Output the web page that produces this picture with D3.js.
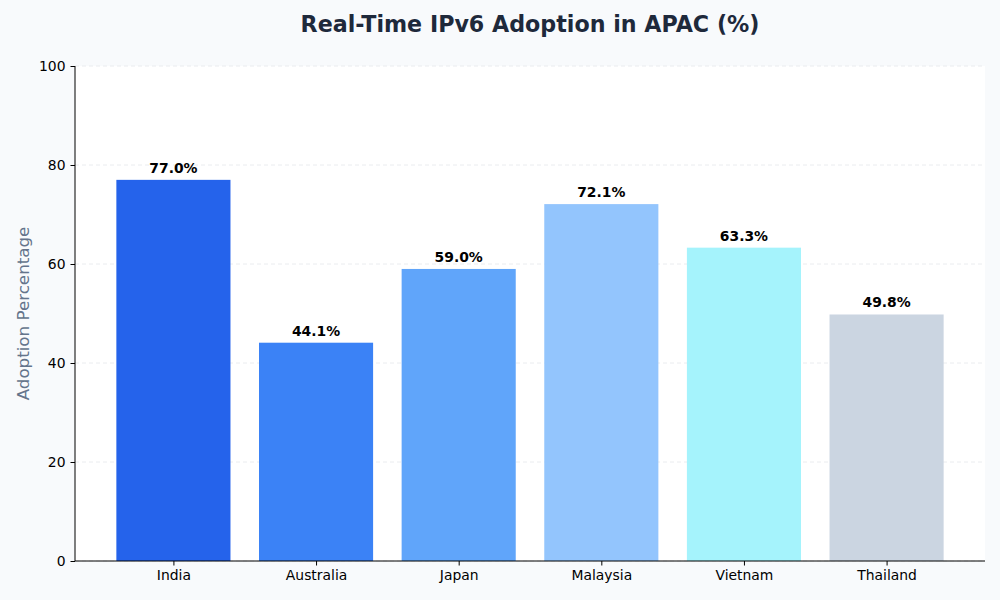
<!DOCTYPE html>
<html>
<head>
<meta charset="utf-8">
<script src="https://cdn.jsdelivr.net/npm/d3@7"></script>
<style>
  body { margin: 0; background: #f8fafc; }
  svg { font-family: 'DejaVu Sans', sans-serif; display: block; }
</style>
</head>
<body>
<svg id="chart" width="1000" height="600"></svg>
<script>
var countries = ['India', 'Australia', 'Japan', 'Malaysia', 'Vietnam', 'Thailand']
var adoption = [77.0, 44.1, 59.0, 72.1, 63.3, 49.8]
var colors = ['#2563eb', '#3b82f6', '#60a5fa', '#93c5fd', '#a5f3fc', '#cbd5e1']
var yTicks = [0, 20, 40, 60, 80, 100]

var svg = d3.select('#chart')
var m = {left: 75, right: 15, top: 66, bottom: 39}
var W = 1000, H = 600

svg.append('rect').attr('width', W).attr('height', H).attr('fill', '#f8fafc')
svg.append('rect')
  .attr('x', m.left).attr('y', m.top)
  .attr('width', W - m.left - m.right).attr('height', H - m.top - m.bottom)
  .attr('fill', '#fff')

var x = d3.scaleLinear().domain([-0.69, 5.69]).range([m.left, W - m.right])
var y = d3.scaleLinear().domain([0, 100]).range([H - m.bottom, m.top])
var step = x(1) - x(0)

// grid
svg.append('g').selectAll('line').data(yTicks).join('line')
  .attr('x1', m.left).attr('x2', W - m.right)
  .attr('y1', d => y(d)).attr('y2', d => y(d))
  .attr('stroke', '#e5e7eb').attr('stroke-dasharray', '4,3').attr('stroke-width', 0.8)

// bars
svg.append('g').selectAll('rect').data(adoption).join('rect')
  .attr('x', (d, i) => x(i) - step * 0.4)
  .attr('width', step * 0.8)
  .attr('y', d => y(d))
  .attr('height', d => y(0) - y(d))
  .attr('fill', (d, i) => colors[i])

svg.append('g').selectAll('text').data(adoption).join('text')
  .attr('x', (d, i) => x(i))
  .attr('y', d => y(d) - 7)
  .attr('text-anchor', 'middle')
  .attr('font-size', 13.9).attr('font-weight', 'bold').attr('fill', '#000')
  .text(d => d.toFixed(1) + '%')

// axes
var xAxis = d3.axisBottom(x).tickValues(d3.range(countries.length))
  .tickFormat(i => countries[i]).tickSize(4.5).tickPadding(5)
svg.append('g').attr('transform', 'translate(0,' + y(0) + ')').call(xAxis)
  .call(g => g.select('.domain').attr('d', 'M' + m.left + ',0H' + (W - m.right)))

var yAxis = d3.axisLeft(y).tickValues(yTicks).tickSize(4.5).tickPadding(5)
svg.append('g').attr('transform', 'translate(' + m.left + ',0)').call(yAxis)
  .call(g => g.select('.domain').attr('d', 'M0,' + m.top + 'V' + y(0)))

svg.selectAll('.tick text').attr('font-size', 13.9).attr('font-family', 'DejaVu Sans').attr('fill', '#000')
svg.selectAll('.domain, .tick line').attr('stroke', '#000').attr('stroke-width', 1)

svg.append('text')
  .attr('transform', 'translate(29,' + (m.top + y(0)) / 2 + ') rotate(-90)')
  .attr('text-anchor', 'middle')
  .attr('font-size', 16.7).attr('fill', '#64748b')
  .text('Adoption Percentage')

svg.append('text')
  .attr('x', (m.left + W - m.right) / 2).attr('y', 32)
  .attr('text-anchor', 'middle')
  .attr('font-size', 22.2).attr('font-weight', 'bold').attr('fill', '#1e293b')
  .text('Real-Time IPv6 Adoption in APAC (%)')
</script>
</body>
</html>
